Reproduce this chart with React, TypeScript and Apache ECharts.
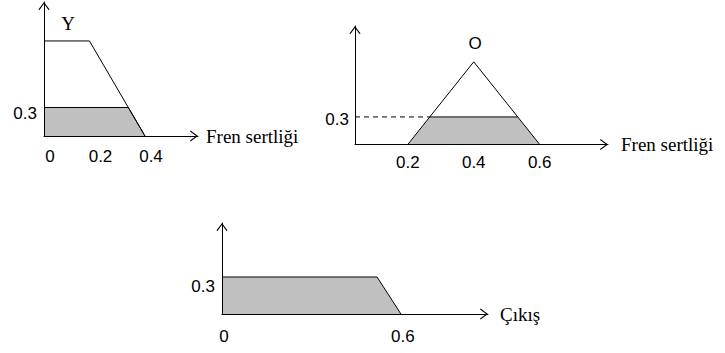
import React, { useEffect, useRef } from "react";
import * as echarts from "echarts";

// Rule inputs: membership functions and their 0.3 cuts
const cutLevel = 0.3;

// Y: brake hardness (left panel)
const setYOutline = [[0, 1], [0.18, 1], [0.4, 0]];
const setYCut = [[0, cutLevel], [0.334, cutLevel], [0.4, 0]];
const ticksY = [0, 0.2, 0.4];

// O: brake hardness (right panel)
const setOOutline = [[0.2, 0], [0.4, 0.9], [0.6, 0]];
const setOCutTop = [[0.2667, cutLevel], [0.5333, cutLevel]];
const setOCut = [[0.2, 0], [0.2667, cutLevel], [0.5333, cutLevel], [0.6, 0]];
const ticksO = [0.2, 0.4, 0.6];
const axisMinO = 0.04;

// Output (bottom panel)
const outputCut = [[0, cutLevel], [0.52, cutLevel], [0.6, 0]];
const ticksOut = [0, 0.6];

const inputName = "Fren sertliği";
const outputName = "Çıkış";

const SERIF = "'Liberation Serif', 'Times New Roman', serif";
const SANS = "'Liberation Sans', Arial, sans-serif";
const GRAY = "#c0c0c0";

// open chevron, tip pointing up
const CHEVRON = "path://M0,8 L6,0 L12,8 L10.8,8.6 L6,2 L1.2,8.6 Z";

function xAxisFor(gridIndex: number, min: number, max: number, ticks: number[], name: string, nameGap: number, margin: number, shift: number) {
  return {
    type: "value",
    gridIndex,
    min,
    max,
    z: 5,
    name,
    nameLocation: "end",
    nameGap,
    nameTextStyle: { fontFamily: SERIF, fontSize: 19, color: "#000" },
    axisLine: {
      show: true,
      onZero: false,
      symbol: ["none", CHEVRON],
      symbolSize: [12, 8],
      symbolOffset: [0, -4],
      lineStyle: { color: "#000", width: 1 },
    },
    axisTick: { show: false },
    splitLine: { show: false },
    axisLabel: {
      customValues: ticks,
      formatter: (v: number) => String(Math.round(v * 10) / 10),
      fontFamily: SANS,
      fontSize: 17,
      color: "#000",
      margin,
      padding: [0, 0, 0, shift],
    },
  };
}

// drop: how far the label's centre sits below the 0.3 level
function yAxisFor(gridIndex: number, max: number, margin: number, drop: number) {
  return {
    type: "value",
    gridIndex,
    min: 0,
    max,
    z: 5,
    axisLine: {
      show: true,
      onZero: false,
      symbol: ["none", CHEVRON],
      symbolSize: [12, 8],
      symbolOffset: [0, -4],
      lineStyle: { color: "#000", width: 1 },
    },
    axisTick: { show: false },
    splitLine: { show: false },
    axisLabel: {
      customValues: [cutLevel],
      formatter: (v: number) => String(v),
      fontFamily: SANS,
      fontSize: 17,
      color: "#000",
      margin,
      verticalAlign: "top",
      lineHeight: drop * 2,
    },
  };
}

const line = (idx: number, data: number[][], extra: any = {}) => ({
  type: "line",
  xAxisIndex: idx,
  yAxisIndex: idx,
  data,
  symbol: "none",
  silent: true,
  lineStyle: { color: "#000", width: 1 },
  ...extra,
});

export default function App() {
  const ref = useRef<HTMLDivElement>(null);

  useEffect(() => {
    if (!ref.current) return;
    const chart = echarts.init(ref.current, null, { renderer: "svg" });
    chart.setOption({
      animation: false,
      backgroundColor: "#fff",
      grid: [
        { left: 44, top: 2, width: 154, height: 134 },
        { left: 355, top: 26, width: 253, height: 118.5 },
        { left: 222, top: 223, width: 266, height: 91 },
      ],
      xAxis: [
        xAxisFor(0, 0, 0.61, ticksY, inputName, 8, 12, 12),
        xAxisFor(1, axisMinO, 0.807, ticksO, inputName, 13, 9, 0),
        xAxisFor(2, 0, 0.892, ticksOut, outputName, 12, 14, 4),
      ],
      yAxis: [yAxisFor(0, 1.41, 7, 6), yAxisFor(1, 1.29, 6, 3), yAxisFor(2, 0.738, 7, 9)],
      series: [
        line(0, setYCut, { areaStyle: { color: GRAY, opacity: 1 } }),
        line(0, setYOutline),
        line(1, setOCut, { areaStyle: { color: GRAY, opacity: 1 }, lineStyle: { width: 0 } }),
        line(1, setOOutline),
        line(1, setOCutTop),
        line(1, [[axisMinO, cutLevel], setOCutTop[0]], { lineStyle: { color: "#000", width: 1, type: [5, 4] } }),
        line(2, outputCut, { areaStyle: { color: GRAY, opacity: 1 } }),
      ],
      graphic: [
        { type: "text", x: 68, y: 23, style: { text: "Y", fontFamily: SERIF, fontSize: 19, fill: "#000", align: "center", verticalAlign: "middle" } },
        { type: "text", x: 475, y: 43, style: { text: "O", fontFamily: SANS, fontSize: 17, fill: "#000", align: "center", verticalAlign: "middle" } },
      ],
    });
    return () => chart.dispose();
  }, []);

  return <div ref={ref} style={{ position: "absolute", left: 0, top: 0, width: 725, height: 353 }} />;
}
